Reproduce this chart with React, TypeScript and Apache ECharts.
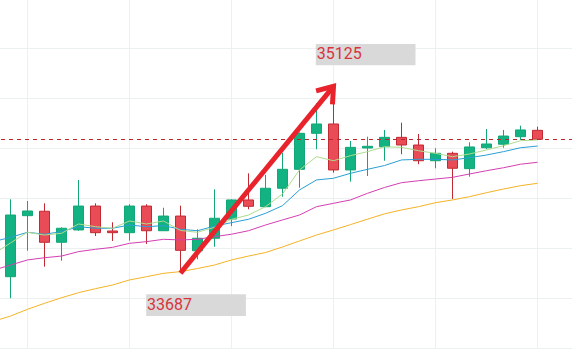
import React, { useEffect, useRef } from "react";
import * as echarts from "echarts";

// category slots: one leading slot (lines come in from off-screen), 32 candles, two empty trailing slots
const categories = [
  "p", "1", "2", "3", "4", "5", "6", "7", "8", "9", "10", "11", "12", "13", "14", "15", "16",
  "17", "18", "19", "20", "21", "22", "23", "24", "25", "26", "27", "28", "29", "30", "31", "32",
  "t1", "t2",
];

// [open, close, lowest, highest]
const candles: number[][] = [
  [33659, 34134, 33493, 34255],
  [34129, 34165, 33859, 34242],
  [34163, 33924, 33736, 34224],
  [33924, 34032, 33782, 34039],
  [34019, 34203, 34013, 34404],
  [34203, 33998, 33972, 34224],
  [34011, 33998, 33934, 34078],
  [33998, 34203, 33936, 34217],
  [34203, 34013, 33911, 34217],
  [34013, 34126, 34013, 34190],
  [34126, 33862, 33687, 34206],
  [33859, 33955, 33793, 34024],
  [33955, 34109, 33890, 34332],
  [34103, 34250, 34049, 34255],
  [34250, 34201, 34178, 34455],
  [34198, 34340, 34195, 34442],
  [34340, 34486, 34275, 34612],
  [34486, 34763, 34344, 34770],
  [34763, 34835, 34640, 34994],
  [34835, 34481, 34460, 35125],
  [34481, 34655, 34391, 34704],
  [34650, 34663, 34434, 34737],
  [34660, 34732, 34552, 34789],
  [34732, 34673, 34602, 34845],
  [34673, 34552, 34525, 34758],
  [34552, 34609, 34494, 34648],
  [34609, 34494, 34257, 34622],
  [34491, 34658, 34429, 34694],
  [34652, 34681, 34642, 34796],
  [34679, 34742, 34652, 34789],
  [34737, 34789, 34712, 34822],
  [34786, 34717, 34715, 34814],
];

// moving averages (first value belongs to the leading off-screen slot)
const maFast = [
  33834, 33919, 34001, 33980, 33993, 34065, 34044, 34032, 34088, 34065, 34088, 34015, 34001,
  34039, 34101, 34134, 34198, 34296, 34481, 34583, 34552, 34591, 34622, 34660, 34655, 34629,
  34609, 34583, 34604, 34635, 34668, 34706, 34712,
];
const maMid = [
  33929, 33962, 34001, 33986, 34006, 34044, 34032, 34032, 34057, 34044, 34052, 34024, 34013,
  34049, 34075, 34101, 34147, 34206, 34327, 34404, 34417, 34455, 34486, 34515, 34558, 34563,
  34563, 34558, 34575, 34596, 34622, 34652, 34665,
];
const maSlow = [
  33709, 33749, 33788, 33805, 33818, 33852, 33870, 33885, 33916, 33929, 33947, 33942, 33947,
  33967, 33986, 34013, 34057, 34096, 34134, 34198, 34224, 34250, 34301, 34346, 34383, 34398,
  34411, 34424, 34450, 34475, 34498, 34525, 34540,
];
const maLong = [
  33316, 33356, 33408, 33454, 33497, 33536, 33567, 33595, 33634, 33659, 33685, 33698, 33722,
  33749, 33788, 33818, 33845, 33888, 33934, 33980, 34019, 34060, 34102, 34143, 34173, 34198,
  34229, 34250, 34275, 34306, 34334, 34360, 34378,
];

const lowMark = { candle: 10, value: 33687 };
const highMark = { candle: 19, value: 35125 };
const lastClose = 34717;

const yMin = 33110;
const yStep = 385;
const yMax = 35805;

export default function App() {
  const ref = useRef<HTMLDivElement>(null);
  useEffect(() => {
    document.body.style.margin = "0";
    document.body.style.overflow = "hidden";
    const chart = echarts.init(ref.current!, null, { renderer: "svg" });
    const PAD = 1;
    const candleData = [["-", "-", "-", "-"], ...candles];
    const labelFont = "Roboto, 'Liberation Sans', Arial, sans-serif";
    chart.setOption({
      animation: false,
      backgroundColor: "#ffffff",
      grid: { left: 0, right: 0, top: 0, bottom: 6 },
      xAxis: {
        type: "category",
        data: categories,
        boundaryGap: true,
        axisLine: { show: false },
        axisTick: { show: false },
        axisLabel: { show: false },
        splitLine: {
          show: true,
          alignWithLabel: true,
          interval: (idx: number) => idx % 6 === 2,
          lineStyle: { color: "#ebf0f0", width: 1 },
        },
      },
      yAxis: {
        type: "value",
        min: yMin,
        max: yMax,
        interval: yStep,
        axisLine: { show: false },
        axisTick: { show: false },
        axisLabel: { show: false },
        splitLine: { show: true, lineStyle: { color: "#ebf0f0", width: 1 } },
      },
      series: [
        {
          type: "candlestick",
          data: candleData,
          barWidth: 10,
          itemStyle: {
            color: "#12b283",
            color0: "#e94b57",
            borderColor: "#13a676",
            borderColor0: "#c22a33",
            borderWidth: 1,
          },
          markLine: {
            silent: true,
            symbol: "none",
            label: { show: false },
            lineStyle: { color: "#b8262e", width: 1, type: [4, 4] },
            data: [{ yAxis: lastClose }],
          },
        },
        { type: "line", data: maLong, symbol: "none", lineStyle: { color: "#f5b326", width: 1 } },
        { type: "line", data: maSlow, symbol: "none", lineStyle: { color: "#d43fb2", width: 1 } },
        { type: "line", data: maMid, symbol: "none", lineStyle: { color: "#2a9fd6", width: 1 } },
        { type: "line", data: maFast, symbol: "none", lineStyle: { color: "#aedc8e", width: 1 } },
        {
          type: "custom",
          z: 10,
          clip: false,
          data: [[lowMark.candle + PAD, lowMark.value, highMark.candle + PAD, highMark.value]],
          renderItem: (params: any, api: any) => {
            const p0 = api.coord([api.value(0), api.value(1)]);
            const p1 = api.coord([api.value(2), api.value(3)]);
            const ang = Math.atan2(p0[1] - p1[1], p0[0] - p1[0]);
            const L = 18;
            const a = (36 * Math.PI) / 180;
            const w1 = [p1[0] + L * Math.cos(ang - a), p1[1] + L * Math.sin(ang - a)];
            const w2 = [p1[0] + L * Math.cos(ang + a), p1[1] + L * Math.sin(ang + a)];
            const red = "#e8232b";
            return {
              type: "group",
              children: [
                {
                  type: "rect",
                  shape: { x: p1[0] - 17.7, y: p1[1] - 42.3, width: 99.7, height: 21.3 },
                  style: { fill: "#d9d9d9" },
                },
                {
                  type: "text",
                  style: {
                    text: String(highMark.value),
                    x: p1[0] - 16.7,
                    y: p1[1] - 32.5,
                    fill: "#d8343c",
                    fontSize: 16,
                    fontFamily: labelFont,
                    align: "left",
                    verticalAlign: "middle",
                  },
                },
                {
                  type: "rect",
                  shape: { x: p0[0] - 34.3, y: p0[1] + 21.2, width: 99.7, height: 21.7 },
                  style: { fill: "#d9d9d9" },
                },
                {
                  type: "text",
                  style: {
                    text: String(lowMark.value),
                    x: p0[0] - 33.5,
                    y: p0[1] + 31,
                    fill: "#d8343c",
                    fontSize: 16,
                    fontFamily: labelFont,
                    align: "left",
                    verticalAlign: "middle",
                  },
                },
                {
                  type: "line",
                  shape: { x1: p0[0], y1: p0[1], x2: p1[0], y2: p1[1] },
                  style: { stroke: red, lineWidth: 5, lineCap: "butt" },
                },
                {
                  type: "polyline",
                  shape: { points: [w1, p1, w2] },
                  style: { stroke: red, lineWidth: 5, fill: null, lineJoin: "miter" },
                },
              ],
            };
          },
        },
      ],
    });
    return () => chart.dispose();
  }, []);
  return (
    <div
      ref={ref}
      style={{ position: "absolute", left: -15, top: -2, width: 595, height: 356 }}
    />
  );
}
